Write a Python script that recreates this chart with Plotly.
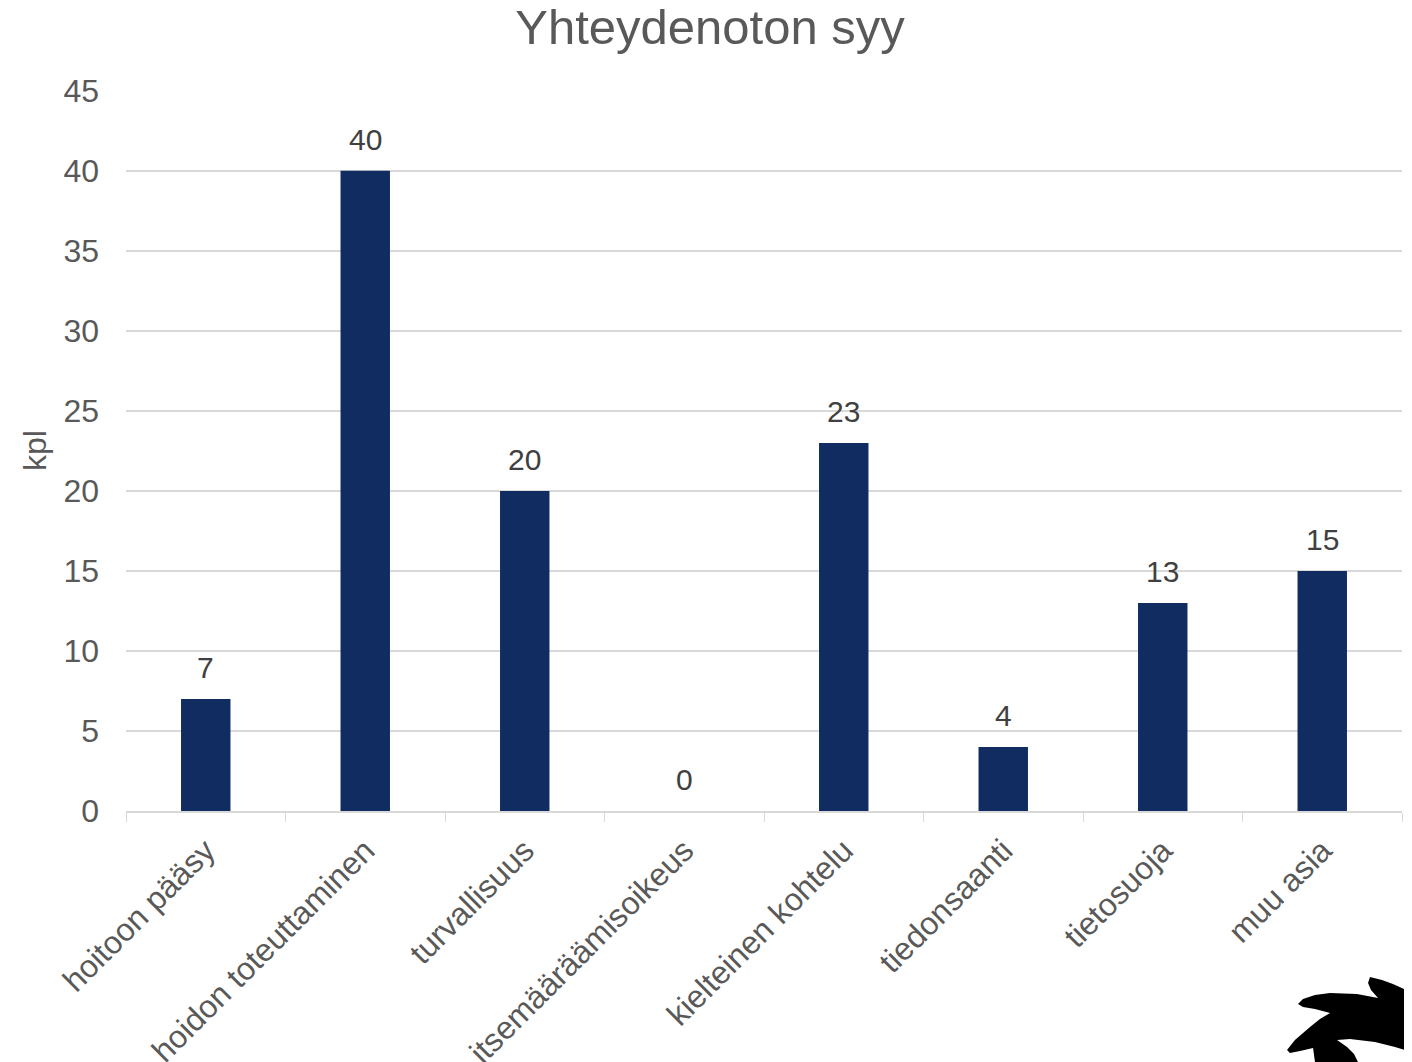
import plotly.graph_objects as go

categories = ["hoitoon pääsy", "hoidon toteuttaminen", "turvallisuus", "itsemääräämisoikeus",
              "kielteinen kohtelu", "tiedonsaanti", "tietosuoja", "muu asia"]
values = [7, 40, 20, 0, 23, 4, 13, 15]
y_ticks = [0, 5, 10, 15, 20, 25, 30, 35, 40, 45]

BAR = "#102C61"
TXT = "#595959"
GRID = "#D9D9D9"
FONT = "Liberation Sans, Arial, sans-serif"

OFF = 8  # page body margin
W, H = 1404, 1054
L, R, T, B = 118, 10, 82, 251

fig = go.Figure()
fig.add_trace(go.Bar(x=categories, y=values, marker_color=BAR, marker_line_width=0,
                     width=0.31, hoverinfo="x+y"))

for c, v in zip(categories, values):
    fig.add_annotation(x=c, y=v, text=str(v), showarrow=False, yanchor="bottom",
                       yshift=13, font=dict(size=30, color="#404040", family=FONT))

# decorative logo (screen-pixel outline converted to paper coordinates)
logo_px = [(1370, 977), (1382, 980), (1393, 984), (1404, 989), (1412, 993), (1412, 1052),
           (1395, 1047), (1375, 1042), (1350, 1039), (1337, 1040), (1347, 1047),
           (1354, 1054), (1358, 1062), (1315, 1062), (1313, 1048), (1300, 1051),
           (1290, 1053), (1287, 1050), (1295, 1040), (1310, 1027), (1320, 1019),
           (1330, 1013), (1315, 1009), (1303, 1007), (1298, 1004), (1303, 999),
           (1315, 995), (1330, 993), (1357, 994), (1378, 998), (1371, 990), (1368, 983)]
pw, ph = W - L - R, H - T - B
x0, ybot = OFF + L, OFF + H - B
pts = [((x - x0) / pw, (ybot - y) / ph) for x, y in logo_px]
path = "M " + " L ".join(f"{x:.4f},{y:.4f}" for x, y in pts) + " Z"
fig.add_shape(type="path", path=path, xref="paper", yref="paper",
              fillcolor="black", line_width=0, layer="above")

fig.update_layout(
    width=W, height=H,
    margin=dict(l=L, r=R, t=T, b=B, autoexpand=False),
    paper_bgcolor="white", plot_bgcolor="white",
    font=dict(family=FONT, color=TXT, size=32),
    title=dict(text="Yhteydenoton syy", x=0.5, xanchor="center", y=1 - 19 / H,
               yanchor="middle", yref="container", font=dict(size=49, color=TXT)),
    showlegend=False,
    bargap=0.69,
)
fig.update_xaxes(
    type="category", tickangle=-45, tickson="boundaries", ticks="outside", ticklen=9,
    tickcolor=GRID, showline=True, linecolor=GRID, linewidth=2, showgrid=False,
    tickfont=dict(size=32, color=TXT, family=FONT), ticklabelstandoff=6, automargin=False,
)
fig.update_yaxes(
    range=[0, 45.05], tickvals=y_ticks, showgrid=True, gridcolor=GRID, gridwidth=2,
    zeroline=False, showline=False, ticks="", ticklabelstandoff=26,
    tickfont=dict(size=32, color=TXT, family=FONT),
    title=dict(text="kpl", font=dict(size=32, color=TXT, family=FONT), standoff=7),
    automargin=False,
)

fig.write_html("out.html")
